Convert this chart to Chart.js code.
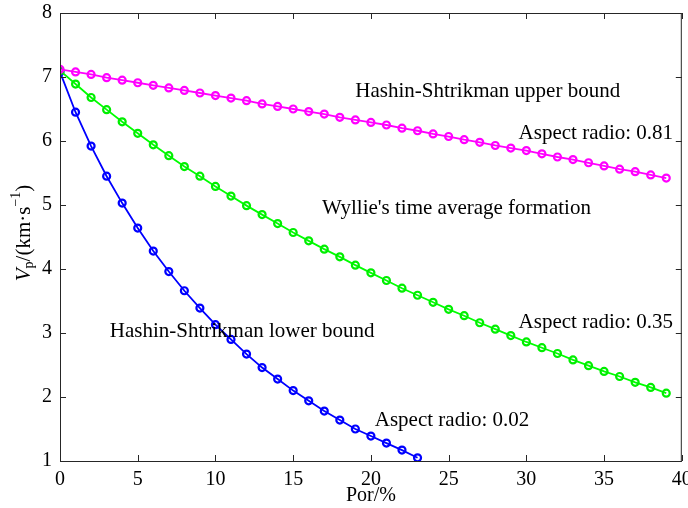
<!DOCTYPE html>
<html>
<head>
<meta charset="utf-8">
<script src="https://cdn.jsdelivr.net/npm/chart.js@4.4.1/dist/chart.umd.min.js"></script>
<style>
html,body{margin:0;padding:0;background:#fff;}
#wrap{width:688px;height:508px;position:relative;}
</style>
</head>
<body>
<div id="wrap"><canvas id="c" width="688" height="508"></canvas></div>
<script>
// ---- data ----
const porUpper = [0,1,2,3,4,5,6,7,8,9,10,11,12,13,14,15,16,17,18,19,20,21,22,23,24,25,26,27,28,29,30,31,32,33,34,35,36,37,38,39];
const vpUpper = [7.12,7.08,7.04,6.99,6.95,6.91,6.87,6.83,6.79,6.75,6.71,6.67,6.63,6.58,6.54,6.50,6.46,6.42,6.37,6.33,6.29,6.25,6.20,6.16,6.11,6.07,6.02,5.98,5.93,5.89,5.85,5.80,5.75,5.71,5.66,5.61,5.56,5.52,5.47,5.42];
const porWyllie = [0,1,2,3,4,5,6,7,8,9,10,11,12,13,14,15,16,17,18,19,20,21,22,23,24,25,26,27,28,29,30,31,32,33,34,35,36,37,38,39];
const vpWyllie = [7.10,6.89,6.68,6.49,6.30,6.12,5.94,5.77,5.60,5.45,5.29,5.14,4.99,4.85,4.71,4.57,4.44,4.31,4.19,4.06,3.94,3.82,3.70,3.59,3.48,3.37,3.27,3.16,3.06,2.96,2.86,2.77,2.68,2.58,2.49,2.40,2.32,2.23,2.15,2.06];
const porLower = [0,1,2,3,4,5,6,7,8,9,10,11,12,13,14,15,16,17,18,19,20,21,22,23];
const vpLower = [7.08,6.45,5.92,5.45,5.03,4.64,4.28,3.96,3.66,3.39,3.13,2.90,2.67,2.46,2.28,2.10,1.94,1.78,1.64,1.50,1.39,1.28,1.17,1.05];
const xTicks = [0,5,10,15,20,25,30,35,40];
const yTicks = [1,2,3,4,5,6,7,8];
const seriesLabels = ['Hashin-Shtrikman upper bound','Wyllie\'s time average formation','Hashin-Shtrikman lower bound'];
const noteTexts = ['Hashin-Shtrikman upper bound','Aspect radio: 0.81','Wyllie\'s time average formation','Aspect radio: 0.35','Hashin-Shtrikman lower bound','Aspect radio: 0.02'];
const noteX = [19.0,29.5,16.85,29.5,3.2,20.25];
const noteY = [6.78,6.12,4.94,3.17,3.02,1.64];
const xTitle = 'Por/%';

const SERIF = '"Liberation Serif","Times New Roman",serif';
function pts(xs, ys){ return xs.map((x,i)=>({x:x,y:ys[i]})); }

const frameAndTicks = {
  id:'frameAndTicks',
  afterDatasetsDraw(chart){
    const {ctx, chartArea:a, scales:{x,y}} = chart;
    ctx.save();
    ctx.strokeStyle = '#262626';
    ctx.lineWidth = 1;
    ctx.strokeRect(a.left+0.5, a.top+0.5, a.right-a.left-1, a.bottom-a.top);
    const L = 6;
    ctx.beginPath();
    xTicks.forEach(v=>{
      const px = Math.round(x.getPixelForValue(v))+0.5;
      ctx.moveTo(px, a.bottom); ctx.lineTo(px, a.bottom-L);
      ctx.moveTo(px, a.top); ctx.lineTo(px, a.top+L);
    });
    yTicks.forEach(v=>{
      const py = Math.round(y.getPixelForValue(v))+0.5;
      ctx.moveTo(a.left, py); ctx.lineTo(a.left+L, py);
      ctx.moveTo(a.right, py); ctx.lineTo(a.right-L, py);
    });
    ctx.stroke();
    // annotations
    ctx.fillStyle = '#000';
    ctx.font = '21px ' + SERIF;
    ctx.textAlign = 'left';
    ctx.textBaseline = 'middle';
    noteTexts.forEach((t,i)=>{
      ctx.fillText(t, x.getPixelForValue(noteX[i]), y.getPixelForValue(noteY[i]));
    });
    // y-axis title with italic V, subscript p and superscript -1
    const parts = [
      {t:'V', f:'italic 21px '+SERIF, dy:0},
      {t:'p', f:'14px '+SERIF, dy:5},
      {t:'/(km\u00B7s', f:'21px '+SERIF, dy:0},
      {t:'\u22121', f:'14px '+SERIF, dy:-8},
      {t:')', f:'21px '+SERIF, dy:0}
    ];
    let w = 0;
    parts.forEach(p=>{ ctx.font = p.f; p.w = ctx.measureText(p.t).width; w += p.w; });
    const cx = 24, cy = (a.top+a.bottom)/2 - 4;
    ctx.translate(cx, cy);
    ctx.rotate(-Math.PI/2);
    ctx.textBaseline = 'middle';
    let xx = -w/2;
    parts.forEach(p=>{ ctx.font = p.f; ctx.fillText(p.t, xx, p.dy); xx += p.w; });
    ctx.restore();
  }
};

new Chart(document.getElementById('c'), {
  type:'scatter',
  data:{
    datasets:[
      {label:seriesLabels[0], data:pts(porUpper,vpUpper), showLine:true, borderColor:'#ff00ff', pointBorderColor:'#ff00ff', pointBackgroundColor:'rgba(0,0,0,0)', borderWidth:1.8, pointRadius:3.5, pointBorderWidth:2.2, tension:0},
      {label:seriesLabels[1], data:pts(porWyllie,vpWyllie), showLine:true, borderColor:'#00ff00', pointBorderColor:'#00ee00', pointBackgroundColor:'rgba(0,0,0,0)', borderWidth:1.8, pointRadius:3.5, pointBorderWidth:2.2, tension:0},
      {label:seriesLabels[2], data:pts(porLower,vpLower), showLine:true, borderColor:'#0000ff', pointBorderColor:'#0000ff', pointBackgroundColor:'rgba(0,0,0,0)', borderWidth:1.8, pointRadius:3.5, pointBorderWidth:2.2, tension:0}
    ]
  },
  options:{
    responsive:false, animation:false,
    devicePixelRatio:1,
    layout:{padding:{left:0, right:6, top:13, bottom:0}},
    plugins:{legend:{display:false}, tooltip:{enabled:false}},
    scales:{
      x:{
        type:'linear', min:0, max:40,
        afterBuildTicks(s){ s.ticks = xTicks.map(v=>({value:v})); },
        afterFit(s){ s.height = 47; s.paddingLeft = 0; s.paddingRight = 0; },
        grid:{display:false, drawTicks:false},
        border:{display:false},
        ticks:{color:'#000', padding:7, maxRotation:0, autoSkip:false, font:{family:SERIF, size:20}},
        title:{display:true, text:xTitle, color:'#000', padding:{top:0,bottom:0}, font:{family:SERIF, size:20}}
      },
      y:{
        type:'linear', min:1, max:8,
        afterBuildTicks(s){ s.ticks = yTicks.map(v=>({value:v})); },
        afterFit(s){ s.width = 60; s.paddingTop = 0; s.paddingBottom = 0; },
        grid:{display:false, drawTicks:false},
        border:{display:false},
        ticks:{color:'#000', padding:8, autoSkip:false, font:{family:SERIF, size:20}}
      }
    }
  },
  plugins:[frameAndTicks]
});
</script>
</body>
</html>
